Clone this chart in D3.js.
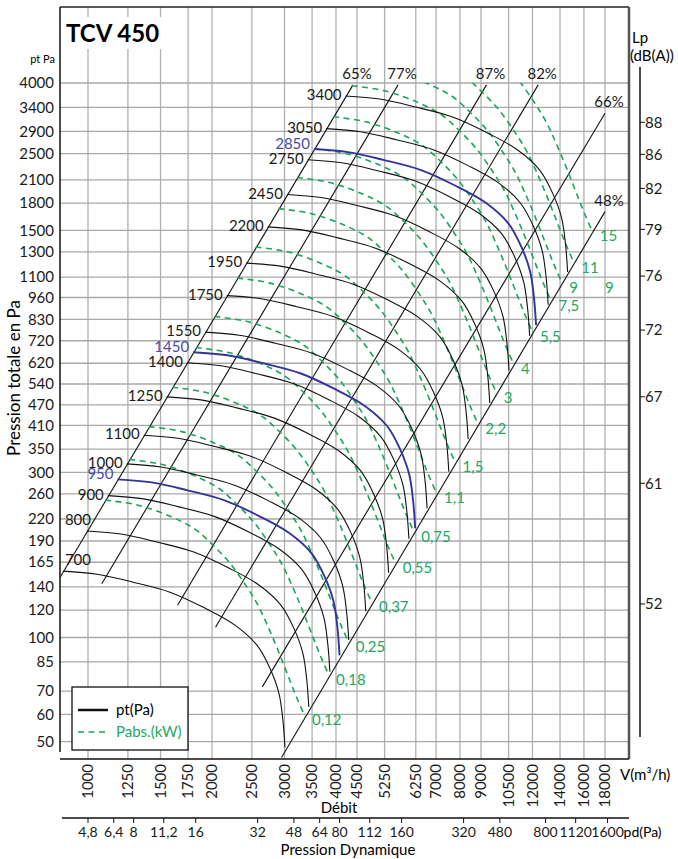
<!DOCTYPE html>
<html>
<head>
<meta charset="utf-8">
<script src="https://cdn.jsdelivr.net/npm/d3@7"></script>
<style>
  body { margin: 0; background: #fff; }
  text { font-family: Lato, "Open Sans", sans-serif; }
</style>
</head>
<body>
<script>
// axis ticks
const flowTicks = [1000, 1250, 1500, 1750, 2000, 2500, 3000, 3500, 4000, 4500, 5250, 6250, 7000, 8000, 9000, 10500, 12000, 14000, 16000, 18000];
const ptTicks = [4000, 3400, 2900, 2500, 2100, 1800, 1500, 1300, 1100, 960, 830, 720, 620, 540, 470, 410, 350, 300, 260, 220, 190, 165, 140, 120, 100, 85, 70, 60, 50];
const pdTicks = [4.8, 6.4, 8, 11.2, 16, 32, 48, 64, 80, 112, 160, 320, 480, 800, 1120, 1600];
const lpValues = [88, 86, 82, 79, 76, 72, 67, 61, 52];
const lpAtPt = [3079, 2488, 1984, 1511, 1107, 773, 496, 279, 125];

// fan speeds (tr/min), the blue ones are the motor speeds
const speeds = [700, 800, 900, 950, 1000, 1100, 1250, 1400, 1450, 1550, 1750, 1950, 2200, 2450, 2750, 2850, 3050, 3400];
const blueSpeeds = [950, 1450, 2850];

// pt curve at 700 tr/min, other speeds follow the fan laws
const baseSpeed = 700;
const baseFlow = [869, 1052, 1286, 1581, 1922, 2274, 2572, 2765, 2908, 2973, 3007];
const basePt = [155.5, 152.4, 144.5, 135.2, 121.6, 108.6, 95.0, 81.5, 69.0, 57.7, 48.2];

// absorbed power line for 0,12 kW, the others scale with P ~ n^3
const basePower = 0.12;
const pabsFlow = [1100, 1323, 1599, 1818, 2011, 2211, 2432, 2586, 2719, 2860, 2990, 3110, 3216, 3363];
const pabsPt = [249.4, 241.2, 222.7, 205.6, 184.9, 164.0, 139.8, 124.0, 109.3, 95.0, 83.2, 73.8, 66.8, 59.2];
const powers = [0.12, 0.18, 0.25, 0.37, 0.55, 0.75, 1.1, 1.5, 2.2, 3, 4, 5.5, 7.5, 9, 11, 15];

// efficiency lines
const effLabels = ['65%', '77%', '87%', '82%', '66%', '48%'];
const effTopFlow = [4400, 5660, 9280, 12390, 18000, 18000];
const effTopPt = [3950, 3950, 3950, 3950, 3270, 1700];
const effBotFlow = [855, 1080, 1650, 2040, 2650, 2950];
const effBotPt = [149, 143, 124, 107, 72, 45];

// loose label on the right
const noteText = ['9'];
const noteFlow = [18000];
const notePt = [990];

const fmt = d => String(d).replace('.', ',');

const width = 678, height = 859;
const frame = {left: 60, right: 629, top: 7, bottom: 759};

const x = d3.scaleLog().domain([1000, 18000]).range([88, 605]);
const y = d3.scaleLog().domain([4000, 50]).range([83, 741.7]);
// pd grows with the square of the flow, so it is also a log scale on the same axis
const pd = d3.scaleLog().domain([4.8, 1600]).range([x(1000), x(1000 * Math.sqrt(1600 / 4.8))]);

const svg = d3.select('body').append('svg')
  .attr('width', width)
  .attr('height', height);

// grid
svg.append('g').selectAll('line')
  .data(flowTicks)
  .enter().append('line')
    .attr('x1', d => x(d)).attr('x2', d => x(d))
    .attr('y1', frame.top).attr('y2', frame.bottom)
    .attr('stroke', '#b0b0b0').attr('stroke-width', 1.3);

svg.append('g').selectAll('line')
  .data(ptTicks)
  .enter().append('line')
    .attr('x1', frame.left).attr('x2', frame.right)
    .attr('y1', d => y(d)).attr('y2', d => y(d))
    .attr('stroke', '#a8a8a8').attr('stroke-width', 1.3);

// title box
svg.append('rect')
  .attr('x', 62).attr('y', 17).attr('width', 100).attr('height', 32)
  .attr('fill', '#fff');
svg.append('text')
  .attr('x', 66).attr('y', 42)
  .attr('font-size', 24).attr('font-weight', 700)
  .text('TCV 450');

// clip to the chart below the 4000 Pa line
svg.append('clipPath').attr('id', 'plotclip')
  .append('rect')
    .attr('x', frame.left).attr('y', y(4000))
    .attr('width', frame.right - frame.left).attr('height', frame.bottom - y(4000));

const plot = svg.append('g').attr('clip-path', 'url(#plotclip)');

const line = d3.line()
  .x(d => x(d[0]))
  .y(d => y(d[1]))
  .curve(d3.curveCatmullRom.alpha(0.5));

// efficiency lines
plot.selectAll('.eff')
  .data(effLabels)
  .enter().append('line')
    .attr('class', 'eff')
    .attr('x1', (d, i) => x(effTopFlow[i])).attr('y1', (d, i) => y(effTopPt[i]))
    .attr('x2', (d, i) => x(effBotFlow[i])).attr('y2', (d, i) => y(effBotPt[i]))
    .attr('stroke', '#111').attr('stroke-width', 1.1);

// absorbed power (green dashed)
const pabsCurves = powers.map(p => {
  const r = Math.cbrt(p / basePower);
  return pabsFlow.map((v, i) => [v * r, pabsPt[i] * r * r]);
});

plot.selectAll('.pabs')
  .data(pabsCurves)
  .enter().append('path')
    .attr('class', 'pabs')
    .attr('d', line)
    .attr('fill', 'none')
    .attr('stroke', '#19a55a')
    .attr('stroke-width', 1.6)
    .attr('stroke-dasharray', '6,4.5');

// pt curves
const ptCurves = speeds.map(n => {
  const r = n / baseSpeed;
  return baseFlow.map((v, i) => [v * r, basePt[i] * r * r]);
});

plot.selectAll('.pt')
  .data(ptCurves)
  .enter().append('path')
    .attr('class', 'pt')
    .attr('d', line)
    .attr('fill', 'none')
    .attr('stroke', (d, i) => blueSpeeds.includes(speeds[i]) ? '#34349a' : '#111')
    .attr('stroke-width', (d, i) => blueSpeeds.includes(speeds[i]) ? 1.9 : 1.1);

// speed labels
svg.append('g').selectAll('text')
  .data(speeds)
  .enter().append('text')
    .attr('x', (d, i) => Math.max(x(ptCurves[i][0][0]) - 4, 91))
    .attr('y', (d, i) => {
      const sx = x(ptCurves[i][0][0]) - 4, sy = y(ptCurves[i][0][1]);
      if (sx < 91) return sy - 6;
      return blueSpeeds.includes(d) ? sy : sy + 4;
    })
    .attr('text-anchor', 'end')
    .attr('font-size', 15)
    .attr('fill', d => blueSpeeds.includes(d) ? '#4a4aa8' : '#1a1a1a')
    .text(d => d);

// power labels at the end of each green line
svg.append('g').selectAll('text')
  .data(powers)
  .enter().append('text')
    .attr('x', (d, i) => x(pabsCurves[i][pabsCurves[i].length - 1][0]) + 7)
    .attr('y', (d, i) => y(pabsCurves[i][pabsCurves[i].length - 1][1]) + 9)
    .attr('font-size', 15)
    .attr('fill', '#22a862')
    .text(d => fmt(d));

svg.append('g').selectAll('text')
  .data(noteText)
  .enter().append('text')
    .attr('x', (d, i) => x(noteFlow[i]))
    .attr('y', (d, i) => y(notePt[i]))
    .attr('font-size', 15)
    .attr('fill', '#22a862')
    .text(d => d);

// efficiency labels
svg.append('g').selectAll('text')
  .data(effLabels)
  .enter().append('text')
    .attr('x', (d, i) => x(effTopFlow[i]) + 4)
    .attr('y', (d, i) => y(effTopPt[i]) - 6)
    .attr('text-anchor', 'middle')
    .attr('font-size', 15)
    .attr('fill', '#1a1a1a')
    .text(d => d);

// frame
svg.append('line')
  .attr('x1', frame.left).attr('x2', frame.right)
  .attr('y1', frame.top).attr('y2', frame.top)
  .attr('stroke', '#222').attr('stroke-width', 1.5);
svg.append('line')
  .attr('x1', frame.right).attr('x2', frame.right)
  .attr('y1', frame.top).attr('y2', frame.bottom)
  .attr('stroke', '#555').attr('stroke-width', 2.5);
svg.append('line')
  .attr('x1', frame.left).attr('x2', frame.left)
  .attr('y1', frame.top).attr('y2', 752)
  .attr('stroke', '#111').attr('stroke-width', 1.5);
svg.append('line')
  .attr('x1', frame.left).attr('x2', frame.right)
  .attr('y1', frame.bottom).attr('y2', frame.bottom)
  .attr('stroke', '#111').attr('stroke-width', 1.5);

// left axis
svg.append('g').selectAll('text')
  .data(ptTicks)
  .enter().append('text')
    .attr('x', 54)
    .attr('y', d => y(d))
    .attr('dy', '0.35em')
    .attr('text-anchor', 'end')
    .attr('font-size', 15)
    .attr('fill', '#1a1a1a')
    .text(d => d);

svg.append('text')
  .attr('x', 55).attr('y', 63)
  .attr('text-anchor', 'end')
  .attr('font-size', 11)
  .text('pt Pa');

svg.append('text')
  .attr('transform', 'translate(20,378) rotate(-90)')
  .attr('text-anchor', 'middle')
  .attr('font-size', 17)
  .text('Pression totale en Pa');

// flow axis
svg.append('g').selectAll('text')
  .data(flowTicks)
  .enter().append('text')
    .attr('transform', d => 'translate(' + x(d) + ',764) rotate(-90)')
    .attr('dy', '0.35em')
    .attr('text-anchor', 'end')
    .attr('font-size', 15)
    .attr('fill', '#1a1a1a')
    .text(d => d);

svg.append('text')
  .attr('x', 620).attr('y', 780)
  .attr('font-size', 15)
  .text('V(m³/h)');

svg.append('text')
  .attr('x', 339).attr('y', 813)
  .attr('text-anchor', 'middle')
  .attr('font-size', 15)
  .text('Débit');

// dynamic pressure axis
svg.append('line')
  .attr('x1', 62).attr('x2', frame.right)
  .attr('y1', 818).attr('y2', 818)
  .attr('stroke', '#111').attr('stroke-width', 1.5);

svg.append('g').selectAll('line')
  .data(pdTicks)
  .enter().append('line')
    .attr('x1', d => pd(d)).attr('x2', d => pd(d))
    .attr('y1', 818).attr('y2', 823)
    .attr('stroke', '#111');

svg.append('g').selectAll('text')
  .data(pdTicks)
  .enter().append('text')
    .attr('x', d => pd(d))
    .attr('y', 837)
    .attr('text-anchor', 'middle')
    .attr('font-size', 14)
    .attr('fill', '#1a1a1a')
    .text(d => fmt(d));

svg.append('text')
  .attr('x', pd(1600) + 16).attr('y', 837)
  .attr('font-size', 14)
  .text('pd(Pa)');

svg.append('text')
  .attr('x', 348).attr('y', 855)
  .attr('text-anchor', 'middle')
  .attr('font-size', 15)
  .text('Pression Dynamique');

// Lp axis
svg.append('line')
  .attr('x1', 640).attr('x2', 640)
  .attr('y1', 67).attr('y2', 737)
  .attr('stroke', '#111').attr('stroke-width', 1.5);

svg.append('g').selectAll('line')
  .data(lpAtPt)
  .enter().append('line')
    .attr('x1', 640).attr('x2', 645)
    .attr('y1', d => y(d)).attr('y2', d => y(d))
    .attr('stroke', '#111');

svg.append('g').selectAll('text')
  .data(lpValues)
  .enter().append('text')
    .attr('x', 645)
    .attr('y', (d, i) => y(lpAtPt[i]))
    .attr('dy', '0.35em')
    .attr('font-size', 15)
    .attr('fill', '#1a1a1a')
    .text(d => d);

svg.append('text')
  .attr('x', 632).attr('y', 43)
  .attr('font-size', 15)
  .text('Lp');
svg.append('text')
  .attr('x', 630).attr('y', 61)
  .attr('font-size', 15)
  .text('(dB(A))');

// legend
const legend = svg.append('g');
legend.append('rect')
  .attr('x', 72).attr('y', 687).attr('width', 116).attr('height', 63)
  .attr('fill', '#fff').attr('stroke', '#111').attr('stroke-width', 1.3);
legend.append('line')
  .attr('x1', 78).attr('x2', 108).attr('y1', 710).attr('y2', 710)
  .attr('stroke', '#111').attr('stroke-width', 2.5);
legend.append('text')
  .attr('x', 116).attr('y', 715)
  .attr('font-size', 15)
  .text('pt(Pa)');
legend.append('line')
  .attr('x1', 78).attr('x2', 108).attr('y1', 732).attr('y2', 732)
  .attr('stroke', '#19a55a').attr('stroke-width', 1.6)
  .attr('stroke-dasharray', '6,4.5');
legend.append('text')
  .attr('x', 116).attr('y', 737)
  .attr('font-size', 15)
  .attr('fill', '#22a862')
  .text('Pabs.(kW)');
</script>
</body>
</html>
